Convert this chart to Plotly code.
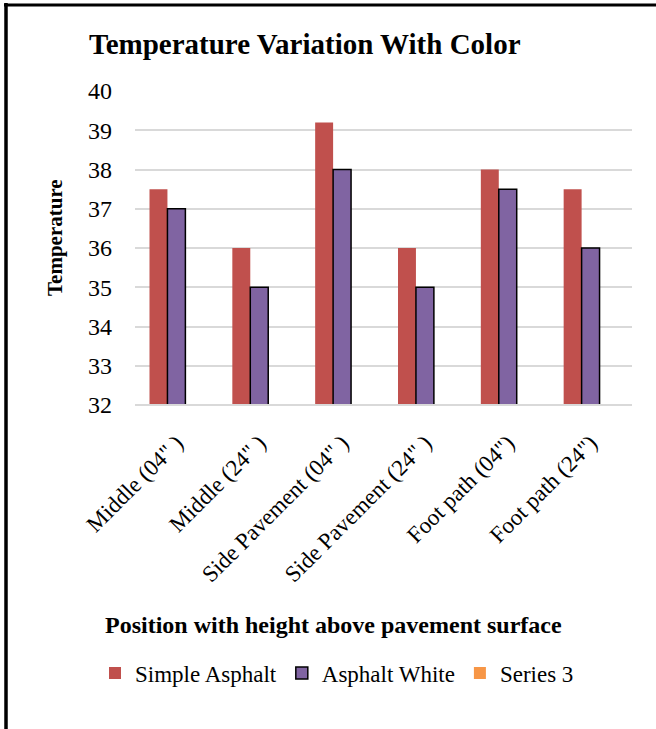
import plotly.graph_objects as go

categories = ["Middle (04\" )", "Middle (24\" )", "Side Pavement (04\" )",
              "Side Pavement (24\" )", "Foot path (04\")", "Foot path (24\")"]
simple_asphalt = [37.5, 36, 39.2, 36, 38, 37.5]
asphalt_white = [37, 35, 38, 35, 37.5, 36]
series3 = [None, None, None, None, None, None]
y_ticks = [32, 33, 34, 35, 36, 37, 38, 39, 40]

FONT = "Liberation Serif, Times New Roman, serif"
L, R, T, B = 135, 24, 91, 324
W, H = 656, 729
pw, ph = W - L - R, H - T - B

def px(x):
    return (x - L) / pw

def py(y):
    return (H - B - y) / ph

fig = go.Figure()
fig.add_trace(go.Bar(x=categories, y=simple_asphalt, name="Simple Asphalt",
                     marker=dict(color="#C0504D", line=dict(width=0))))
fig.add_trace(go.Bar(x=categories, y=asphalt_white, name="Asphalt White",
                     marker=dict(color="#8064A2", line=dict(color="black", width=1.5))))
fig.add_trace(go.Bar(x=categories, y=series3, name="Series 3",
                     marker=dict(color="#F79646", line=dict(width=0))))

fig.update_layout(
    width=W, height=H,
    margin=dict(l=L, r=R, t=T, b=B, pad=0),
    paper_bgcolor="white", plot_bgcolor="white",
    barmode="group", bargap=0.35, bargroupgap=0,
    font=dict(family=FONT, color="black"),
    showlegend=True,
    legend=dict(orientation="h", x=px(337), xanchor="center", y=py(673), yanchor="middle",
                font=dict(size=23, family=FONT), itemwidth=30, traceorder="normal"),
    xaxis=dict(tickangle=-45, tickfont=dict(size=23, family=FONT), showgrid=False,
               showline=False, ticks="", automargin=False, ticklabelstandoff=19),
    yaxis=dict(range=[32, 40], tickvals=y_ticks, tickfont=dict(size=24, family=FONT),
               showgrid=True, gridcolor="#d9d9d9", gridwidth=1.5, zeroline=False,
               showline=False, ticks="", ticklabelstandoff=22, automargin=False),
    annotations=[
        dict(text="<b>Temperature Variation With Color</b>", xref="paper", yref="paper",
             x=px(87), y=py(44), xanchor="left", yanchor="middle", showarrow=False,
             font=dict(size=29, family=FONT)),
        dict(text="<b>Temperature</b>", xref="paper", yref="paper", x=px(55), y=py(238),
             xanchor="center", yanchor="middle", textangle=-90, showarrow=False,
             font=dict(size=21, family=FONT)),
        dict(text="<b>Position with height above pavement surface</b>", xref="paper",
             yref="paper", x=px(333), y=py(625), xanchor="center", yanchor="middle",
             showarrow=False, font=dict(size=24, family=FONT)),
    ],
    shapes=[
        dict(type="line", xref="paper", yref="paper", x0=px(4), x1=px(660), y0=py(5), y1=py(5),
             line=dict(color="black", width=3)),
        dict(type="line", xref="paper", yref="paper", x0=px(6), x1=px(6), y0=py(3), y1=py(735),
             line=dict(color="black", width=3.5)),
        dict(type="line", xref="paper", yref="paper", x0=0, x1=1, y0=0, y1=0,
             line=dict(color="#d9d9d9", width=2), layer="above"),
    ],
)

fig.write_html("out.html", config={"displayModeBar": False},
               post_script="document.body.style.margin='0';document.body.style.overflow='hidden';")
